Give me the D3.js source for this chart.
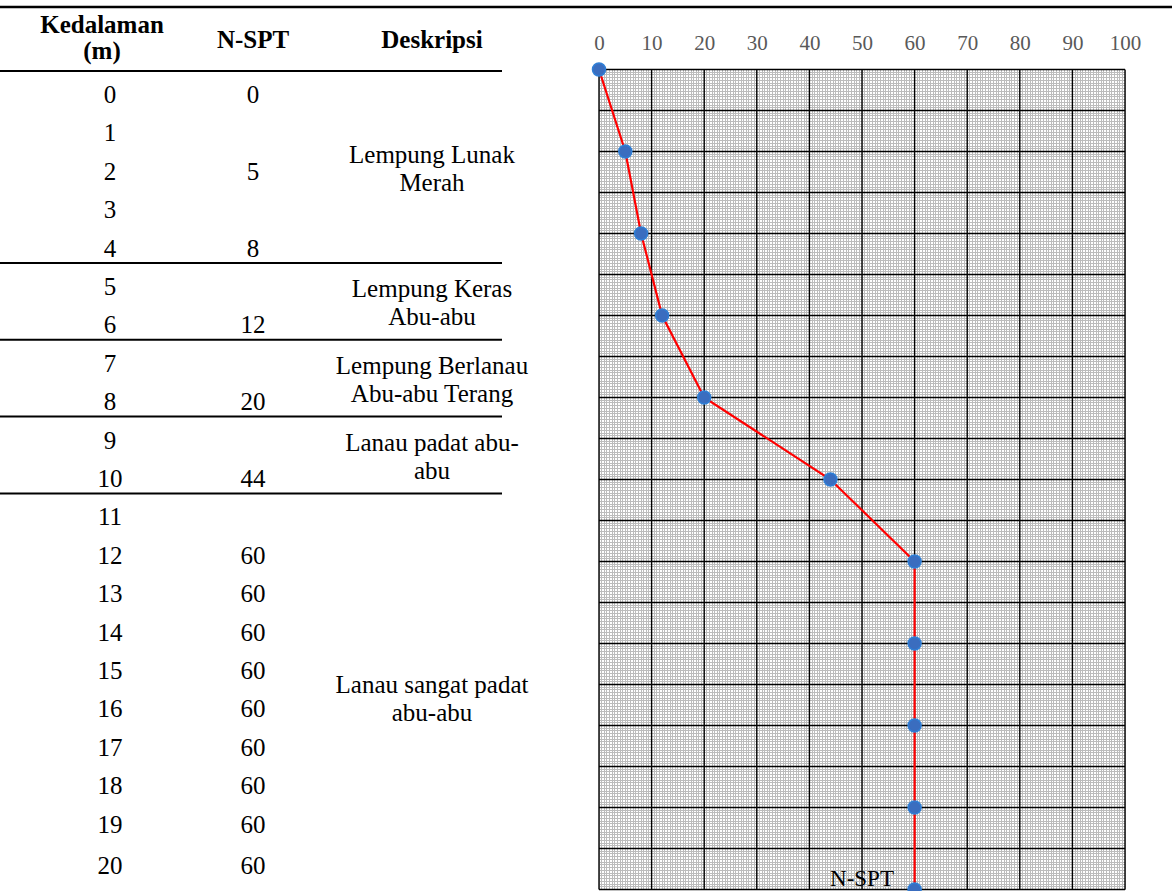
<!DOCTYPE html>
<html><head><meta charset="utf-8">
<script src="https://cdn.jsdelivr.net/npm/d3@7/dist/d3.min.js"></script>
<style>html,body{margin:0;padding:0;background:#fff;} svg{display:block;}</style>
</head><body>
<svg id="c" width="1172" height="891"></svg>
<script>
// ---- data ----
const tableDepths = [0,1,2,3,4,5,6,7,8,9,10,11,12,13,14,15,16,17,18,19,20];
const tableNSPT = ["0","","5","","8","","12","","20","","44","","60","60","60","60","60","60","60","60","60"];
const layerFrom = [0,5,7,9,11];
const layerTo = [4,6,8,10,20];
const layerText = [
  ["Lempung Lunak","Merah"],
  ["Lempung Keras","Abu-abu"],
  ["Lempung Berlanau","Abu-abu Terang"],
  ["Lanau padat abu-","abu"],
  ["Lanau sangat padat","abu-abu"]
];
const headerText = [["Kedalaman","(m)"],["N-SPT"],["Deskripsi"]];
const chartDepths = [0,2,4,6,8,10,12,14,16,18,20];
const chartNSPT = [0,5,8,12,20,44,60,60,60,60,60];
const xTicks = [0,10,20,30,40,50,60,70,80,90,100];
const seriesLabel = "N-SPT";

// ---- layout ----
const svg = d3.select("#c");
const W = 1172, H = 891;
const font = "'Liberation Serif','Times New Roman',serif";

// table scales
const rowScale = d3.scaleLinear().domain([0,21]).range([71, 71 + 38.4*21]);
const tableBottom = 900;
const colX = {depth:110, nspt:253, desc:432};
const tableRight = 502;

// top rule
svg.append("line").attr("x1",0).attr("x2",W).attr("y1",7).attr("y2",7)
  .attr("stroke","#000").attr("stroke-width",2.5);

// header
const hg = svg.append("g").attr("font-family",font).attr("font-weight","bold")
  .attr("font-size",25).attr("text-anchor","middle").attr("fill","#000");
hg.append("text").attr("x",102).attr("y",33).text(headerText[0][0]);
hg.append("text").attr("x",102).attr("y",59).text(headerText[0][1]);
hg.append("text").attr("x",colX.nspt).attr("y",48).text(headerText[1][0]);
hg.append("text").attr("x",colX.desc).attr("y",48).text(headerText[2][0]);

svg.append("line").attr("x1",0).attr("x2",tableRight).attr("y1",rowScale(0)).attr("y2",rowScale(0))
  .attr("stroke","#000").attr("stroke-width",2);

// separators
layerFrom.slice(1).forEach(f=>{
  svg.append("line").attr("x1",0).attr("x2",tableRight)
    .attr("y1",rowScale(f)).attr("y2",rowScale(f))
    .attr("stroke","#000").attr("stroke-width",2);
});

// rows
const tg = svg.append("g").attr("font-family",font).attr("font-size",25)
  .attr("text-anchor","middle").attr("fill","#000");
tableDepths.forEach((d,i)=>{
  const b = rowScale(d) + 32 + (d===20 ? 3 : 0);
  tg.append("text").attr("x",colX.depth).attr("y",b).text(d);
  if (tableNSPT[i]) tg.append("text").attr("x",colX.nspt).attr("y",b).text(tableNSPT[i]);
});

// descriptions
layerText.forEach((lines,i)=>{
  const top = rowScale(layerFrom[i]);
  const bot = (layerTo[i]===20) ? tableBottom : rowScale(layerTo[i]+1);
  const mid = (top+bot)/2;
  const n = lines.length;
  lines.forEach((t,j)=>{
    tg.append("text").attr("x",colX.desc).attr("y",mid + 10 + (j-(n-1)/2)*28).text(t);
  });
});

// ---- chart ----
const x = d3.scaleLinear().domain([0,100]).range([599,1125]);
const y = d3.scaleLinear().domain([0,20]).range([69.5,889.5]);

const grid = svg.append("g");
// minor grid
const minorX = d3.range(0,100.0001,0.5);
const minorY = d3.range(0,20.0001,1/15);
grid.selectAll("line.mx").data(minorX).join("line").attr("class","mx")
  .attr("x1",d=>x(d)).attr("x2",d=>x(d)).attr("y1",y(0)).attr("y2",y(20))
  .attr("stroke","#bcbcbc").attr("stroke-width",1).attr("shape-rendering","crispEdges");
grid.selectAll("line.my").data(minorY).join("line").attr("class","my")
  .attr("y1",d=>y(d)).attr("y2",d=>y(d)).attr("x1",x(0)).attr("x2",x(100))
  .attr("stroke","#bcbcbc").attr("stroke-width",1).attr("shape-rendering","crispEdges");
// major grid
grid.selectAll("line.Mx").data(xTicks).join("line").attr("class","Mx")
  .attr("x1",d=>x(d)).attr("x2",d=>x(d)).attr("y1",y(0)).attr("y2",y(20))
  .attr("stroke","#000").attr("stroke-width",1.4);
grid.selectAll("line.My").data(d3.range(0,21,1)).join("line").attr("class","My")
  .attr("y1",d=>y(d)).attr("y2",d=>y(d)).attr("x1",x(0)).attr("x2",x(100))
  .attr("stroke","#000").attr("stroke-width",1.3);

// top axis labels
const ax = svg.append("g").attr("transform",`translate(0,${y(0)})`)
  .call(d3.axisTop(x).tickValues(xTicks).tickSize(0).tickPadding(20).tickFormat(d3.format("d")));
ax.select(".domain").remove();
ax.selectAll("text").attr("font-family",font).attr("font-size",21).attr("fill","#595959");

// series line
const line = d3.line().x((d,i)=>x(chartNSPT[i])).y(d=>y(d));
svg.append("path").datum(chartDepths).attr("d",line)
  .attr("fill","none").attr("stroke","#ff0000").attr("stroke-width",2.2);
svg.selectAll("circle.pt").data(chartDepths).join("circle").attr("class","pt")
  .attr("cx",(d,i)=>x(chartNSPT[i])).attr("cy",d=>y(d)).attr("r",6.5)
  .attr("fill","#3a6dbf").attr("stroke","#2f7fd6").attr("stroke-width",1.5);

// series label
svg.append("text").attr("x",862).attr("y",886).attr("text-anchor","middle")
  .attr("font-family",font).attr("font-size",23).attr("fill","#000").text(seriesLabel);
</script>
</body></html>
